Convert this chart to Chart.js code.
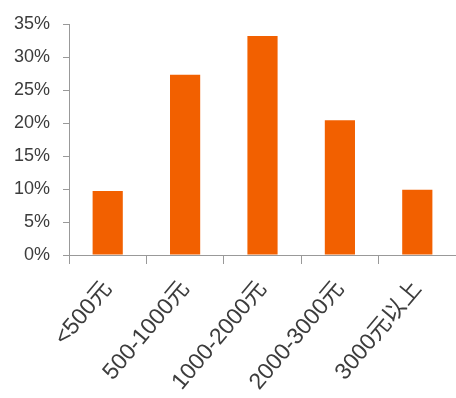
<!DOCTYPE html>
<html>
<head>
<meta charset="utf-8">
<script src="https://cdn.jsdelivr.net/npm/chart.js@4/dist/chart.umd.min.js"></script>
<style>
  html, body { margin: 0; padding: 0; background: #ffffff; }
  #wrap { width: 456px; height: 398px; }
</style>
</head>
<body>
<div id="wrap"><canvas id="c" width="456" height="398"></canvas></div>
<script>
const categories = ["<500元", "500-1000元", "1000-2000元", "2000-3000元", "3000元以上"];
const shares = [9.7, 27.3, 33.2, 20.4, 9.9];
const yTicks = [0, 5, 10, 15, 20, 25, 30, 35];

const FONT = '"Liberation Sans", "Noto Sans CJK SC", sans-serif';
const TEXT = '#3c3c3c';
const AXIS = '#999999';

new Chart(document.getElementById('c'), {
  type: 'bar',
  data: {
    labels: categories,
    datasets: [{
      data: shares,
      backgroundColor: '#f26000',
      borderWidth: 0,
      barPercentage: 0.39,
      categoryPercentage: 1.0
    }]
  },
  options: {
    responsive: false,
    animation: false,
    devicePixelRatio: 1,
    layout: { padding: { top: 24, right: 0, left: 0, bottom: 0 } },
    plugins: { legend: { display: false }, tooltip: { enabled: false } },
    scales: {
      x: {
        offset: true,
        grid: { display: true, drawOnChartArea: false, drawTicks: true, tickLength: 9, color: AXIS, offset: true },
        border: { display: true, color: AXIS, width: 1 },
        ticks: {
          font: { family: FONT, size: 23 },
          color: TEXT,
          minRotation: 50,
          maxRotation: 50,
          padding: 12,
          autoSkip: false
        },
        afterFit: s => { s.height = 143; }
      },
      y: {
        min: 0,
        max: 35,
        afterBuildTicks: s => { s.ticks = yTicks.map(v => ({ value: v })); },
        grid: { display: true, drawOnChartArea: false, drawTicks: true, tickLength: 6, color: AXIS },
        border: { display: true, color: AXIS, width: 1 },
        ticks: {
          font: { family: FONT, size: 18 },
          color: TEXT,
          padding: 13,
          callback: v => v + '%'
        },
        afterFit: s => { s.width = 69; }
      }
    }
  }
});
</script>
</body>
</html>
